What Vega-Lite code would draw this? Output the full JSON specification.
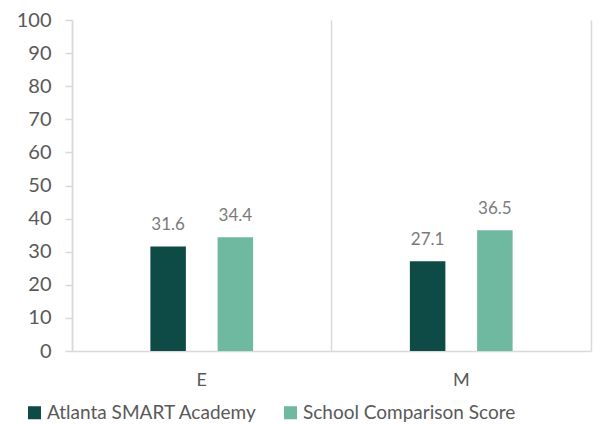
{
  "$schema": "https://vega.github.io/schema/vega-lite/v6.json",
  "width": 519,
  "height": 331,
  "autosize": {"type": "none"},
  "padding": {"left": 72, "top": 20, "right": 12, "bottom": 73},
  "config": {
    "view": {"stroke": null},
    "font": "Lato",
    "axis": {"labelFont": "Lato", "labelColor": "#595959"}
  },
  "data": {
    "values": [
      {"level": "E", "series": "Atlanta SMART Academy", "value": 31.6},
      {"level": "E", "series": "School Comparison Score", "value": 34.4},
      {"level": "M", "series": "Atlanta SMART Academy", "value": 27.1},
      {"level": "M", "series": "School Comparison Score", "value": 36.5}
    ]
  },
  "encoding": {
    "x": {
      "field": "level",
      "type": "nominal",
      "scale": {"paddingInner": 0, "paddingOuter": 0},
      "axis": {
        "title": null,
        "labelAngle": 0,
        "labelFontSize": 18,
        "labelPadding": 20,
        "ticks": false,
        "domainColor": "#d9d9d9",
        "domainWidth": 1.5,
        "grid": true,
        "gridColor": "#d9d9d9",
        "gridWidth": 1.5,
        "bandPosition": 0
      }
    },
    "xOffset": {
      "field": "series",
      "type": "nominal",
      "scale": {"paddingInner": 0, "paddingOuter": 0.93}
    },
    "y": {
      "field": "value",
      "type": "quantitative",
      "scale": {"domain": [0, 100], "nice": false}
    }
  },
  "layer": [
    {
      "mark": {"type": "bar", "width": 35.5},
      "encoding": {
        "y": {
          "field": "value",
          "type": "quantitative",
          "axis": {
            "title": null,
            "values": [0, 10, 20, 30, 40, 50, 60, 70, 80, 90, 100],
            "labelFontSize": 20,
            "labelPadding": 14,
            "tickSize": 7,
            "tickColor": "#d9d9d9",
            "tickWidth": 1.5,
            "domainColor": "#d9d9d9",
            "domainWidth": 1.5,
            "grid": false
          }
        },
        "color": {
          "field": "series",
          "type": "nominal",
          "scale": {
            "domain": ["Atlanta SMART Academy", "School Comparison Score"],
            "range": ["#0f4b46", "#6fb9a0"]
          },
          "legend": {
            "title": null,
            "orient": "none",
            "direction": "horizontal",
            "legendX": -47,
            "legendY": 383,
            "symbolType": "square",
            "symbolSize": 170,
            "symbolStrokeWidth": 0,
            "labelFontSize": 19,
            "labelColor": "#595959",
            "labelFont": "Lato",
            "labelOffset": 3,
            "columnPadding": 24,
            "labelLimit": 400
          }
        }
      }
    },
    {
      "mark": {"type": "text", "dy": -16, "baseline": "alphabetic", "fontSize": 17, "color": "#7a7a7a"},
      "encoding": {
        "text": {"field": "value", "type": "quantitative", "format": ".1f"},
        "y": {
          "field": "value",
          "type": "quantitative",
          "axis": {
            "orient": "right",
            "title": null,
            "labels": false,
            "ticks": false,
            "grid": false,
            "domainColor": "#d9d9d9",
            "domainWidth": 1.5
          }
        }
      }
    }
  ],
  "resolve": {"axis": {"y": "independent"}}
}
